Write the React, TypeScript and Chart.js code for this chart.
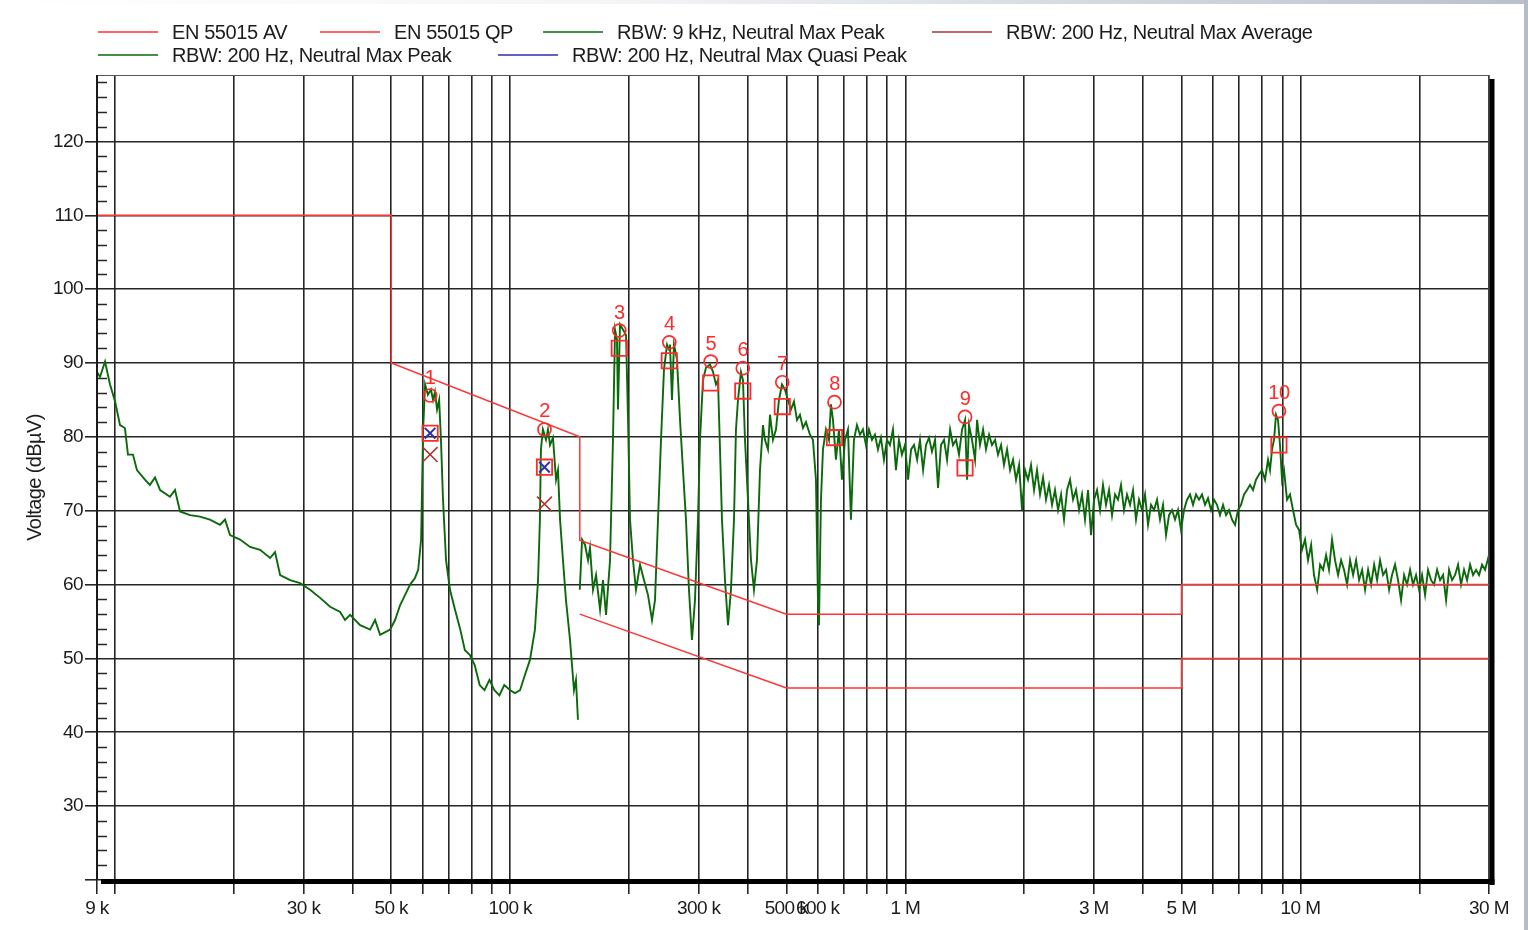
import { useEffect, useRef } from "react";
import { Chart, registerables } from "chart.js";

Chart.register(...registerables);

// ---------- DATA (frequency in kHz, level in dBµV) ----------
const TRACE_200HZ_FREQ = [
  9.0, 9.16, 9.43, 9.71, 10.0, 10.29, 10.59, 10.78, 11.1, 11.36,
  11.9, 12.25, 12.62, 13.0, 13.77, 14.18, 14.6, 15.47, 16.4, 17.38,
  18.43, 18.98, 19.54, 20.72, 21.96, 23.28, 24.68, 25.4, 26.16, 27.73,
  29.39, 31.16, 33.03, 35.01, 37.11, 38.2, 39.34, 41.7, 44.2, 45.5,
  46.85, 49.66, 51.12, 52.63, 54.2, 55.8, 57.4, 58.5, 59.5, 60.2,
  60.9, 61.9, 63.0, 63.8, 64.5, 65.3, 66.1, 66.8, 67.6, 68.8,
  70.4, 72.5, 74.6, 76.8, 79.0, 81.3, 83.7, 86.1, 88.6, 91.2,
  93.9, 96.6, 100, 102.8, 105.9, 109.0, 112.2, 115.5, 117.6, 118.9,
  119.6, 121.0, 123.2, 124.6, 126.1, 128.3, 130.6, 132.1, 133.7, 136.0,
  138.4, 141.7, 145.0, 146.7, 148.4,
];
const TRACE_200HZ_PEAK = [
  88.8, 88.1, 90.2, 87.1, 84.8, 81.6, 81.2, 77.6, 77.6, 75.5,
  74.2, 73.5, 74.5, 72.8, 71.9, 72.8, 69.9, 69.4, 69.2, 68.8,
  68.1, 68.8, 66.7, 66.1, 65.1, 64.7, 63.6, 64.4, 61.3, 60.6,
  60.2, 59.3, 58.2, 57.0, 56.3, 55.2, 55.9, 54.5, 53.9, 55.2,
  53.2, 53.9, 55.2, 57.2, 58.6, 60.0, 60.9, 62.0, 66.1, 81.0,
  87.1, 85.7, 86.4, 85.0, 86.1, 83.7, 85.0, 79.6, 71.5, 63.3,
  59.3, 56.6, 54.1, 51.1, 50.5, 49.1, 46.4, 45.7, 47.1, 45.7,
  45.0, 46.4, 45.7, 45.3, 45.7, 47.8, 49.8, 53.9, 60.6, 68.8,
  78.3, 81.0, 79.6, 81.0, 78.9, 79.9, 74.2, 75.5, 68.8, 63.3,
  57.9, 52.5, 45.7, 47.1, 41.7,
];

const TRACE_9KHZ_FREQ = [
  150, 152.0, 154.6, 157.4, 159.2, 162.0, 164.9, 168.8, 171.7, 174.8,
  178.9, 182.0, 184.2, 186.3, 187.4, 189.6, 193.0, 196.4, 198.7, 201.0,
  204.5, 208.1, 213.1, 218.1, 223.2, 228.5, 232.5, 236.6, 240.8, 245.0,
  249.4, 252.3, 253.7, 256.7, 259.7, 264.3, 269.0, 273.7, 278.5, 283.4,
  288.4, 293.5, 298.7, 302.2, 307.5, 313.0, 320.3, 326.0, 331.7, 335.6,
  339.6, 343.5, 349.6, 355.8, 362.0, 368.4, 372.7, 377.1, 383.7, 388.2,
  392.8, 399.7, 406.8, 413.9, 421.2, 428.7, 436.2, 441.3, 449.1, 454.4,
  462.4, 470.5, 478.8, 487.3, 495.9, 504.6, 513.5, 522.6, 531.8, 541.2,
  550.7, 560.4, 573.6, 583.7, 594.0, 601.0, 604.5, 611.6, 618.8, 629.7,
  640.8, 648.3, 655.9, 667.4, 679.2, 691.2, 703.4, 715.8, 728.4, 741.2,
  754.3, 767.6, 781.2, 794.9, 808.9, 823.2, 837.7, 852.5, 867.5, 882.8,
  898.4, 914.2, 930.4, 946.8, 963.5, 980.5, 997.7, 1016, 1034, 1052,
  1071, 1089, 1109, 1128, 1148, 1168, 1189, 1210, 1231, 1253,
  1275, 1298, 1320, 1344, 1367, 1392, 1416, 1433, 1449, 1475,
  1501, 1519, 1545, 1573, 1600, 1629, 1657, 1687, 1716, 1747,
  1777, 1809, 1841, 1873, 1906, 1940, 1974, 2009, 2044, 2080,
  2117, 2154, 2192, 2231, 2270, 2310, 2351, 2392, 2435, 2478,
  2521, 2566, 2611, 2657, 2704, 2752, 2800, 2849, 2900, 2951,
  3003, 3056, 3110, 3164, 3220, 3277, 3335, 3394, 3453, 3514,
  3576, 3639, 3704, 3769, 3835, 3903, 3972, 4042, 4113, 4186,
  4260, 4335, 4411, 4489, 4568, 4649, 4731, 4814, 4899, 4985,
  5073, 5163, 5254, 5346, 5441, 5537, 5634, 5734, 5835, 5938,
  6042, 6149, 6257, 6368, 6480, 6594, 6711, 6829, 6949, 7072,
  7197, 7324, 7453, 7584, 7718, 7854, 7992, 8133, 8277, 8374,
  8472, 8571, 8672, 8773, 8876, 8980, 9086, 9246, 9409, 9575,
  9744, 9916, 10090, 10270, 10450, 10640, 10820, 11020, 11210, 11410,
  11610, 11810, 12020, 12230, 12450, 12670, 12890, 13120, 13350, 13590,
  13830, 14070, 14320, 14570, 14830, 15090, 15360, 15630, 15900, 16180,
  16470, 16760, 17050, 17350, 17660, 17970, 18290, 18610, 18940, 19270,
  19610, 19960, 20310, 20670, 21030, 21410, 21780, 22170, 22560, 22960,
  23360, 23770, 24190, 24620, 25050, 25490, 25940, 26400, 26870, 27340,
  27820, 28310, 28810, 29320, 30000,
];
const TRACE_9KHZ_PEAK = [
  59.3, 66.1, 65.4, 63.3, 65.0, 59.3, 61.3, 56.6, 60.6, 55.9,
  63.3, 79.6, 94.5, 93.2, 83.7, 95.2, 94.5, 93.8, 82.3, 68.8,
  63.3, 59.3, 62.7, 60.6, 58.6, 55.2, 57.9, 68.8, 79.6, 89.1,
  92.5, 91.8, 92.5, 85.0, 92.5, 90.5, 82.3, 75.5, 68.8, 59.3,
  52.5, 57.9, 68.8, 79.6, 87.7, 89.4, 89.8, 88.8, 87.1, 87.7,
  78.3, 68.8, 60.6, 54.5, 59.3, 68.8, 81.0, 85.0, 88.8, 87.7,
  79.6, 71.5, 63.3, 59.3, 63.3, 75.5, 81.6, 79.6, 78.3, 83.0,
  79.6, 81.0, 85.0, 87.1, 86.4, 85.0, 83.7, 84.8, 82.3, 83.0,
  81.2, 82.0, 80.3, 79.6, 74.2, 57.9, 54.5, 71.5, 78.3, 81.0,
  79.6, 84.4, 82.3, 76.9, 81.0, 74.2, 79.6, 81.0, 68.8, 79.6,
  81.6, 80.3, 81.0, 78.9, 81.0, 79.6, 80.3, 78.3, 79.9, 76.9,
  79.6, 78.9, 81.0, 75.5, 79.6, 77.6, 78.9, 74.2, 78.3, 78.9,
  76.9, 79.6, 75.5, 78.9, 79.9, 78.0, 79.6, 73.1, 78.9, 79.6,
  76.9, 81.0, 78.9, 79.6, 77.6, 81.0, 82.3, 74.2, 81.6, 79.6,
  76.9, 82.3, 78.9, 81.0, 78.3, 80.3, 78.9, 79.6, 77.6, 78.9,
  76.2, 78.3, 75.5, 76.9, 74.2, 76.2, 70.1, 75.5, 74.2, 76.2,
  72.8, 75.5, 72.2, 74.5, 71.5, 73.5, 70.8, 72.8, 70.1, 72.2,
  68.8, 72.8, 74.2, 71.5, 72.8, 70.1, 72.2, 68.8, 72.8, 66.7,
  71.5, 72.8, 70.1, 73.5, 70.8, 72.8, 69.4, 72.2, 71.5, 73.5,
  70.1, 72.2, 70.8, 72.8, 68.8, 71.5, 70.1, 72.2, 68.1, 70.8,
  70.1, 71.5, 68.8, 70.8, 66.7, 69.4, 70.1, 68.8, 70.1, 67.4,
  70.1, 71.5, 72.2, 70.8, 72.2, 71.5, 72.2, 70.8, 71.7, 70.1,
  71.5, 70.8, 69.4, 70.8, 69.4, 70.1, 68.8, 68.1, 70.1, 70.8,
  72.2, 72.8, 73.5, 72.8, 74.2, 74.9, 75.5, 74.2, 76.9, 75.5,
  78.3, 79.6, 83.0, 82.3, 78.9, 74.2, 75.5, 71.5, 72.2, 70.1,
  68.1, 67.4, 64.7, 66.1, 63.3, 65.4, 61.3, 59.3, 62.7, 62.0,
  64.0, 62.0, 66.1, 63.3, 61.3, 63.3, 62.0, 60.0, 63.3, 61.3,
  63.3, 60.6, 62.0, 59.3, 62.0, 60.0, 62.7, 60.6, 63.3, 61.3,
  62.0, 59.3, 61.3, 62.7, 60.6, 57.9, 61.3, 60.0, 62.0, 60.0,
  61.3, 59.3, 61.3, 58.6, 62.0, 60.6, 60.0, 62.0, 60.6, 61.3,
  57.9, 62.0, 60.6, 61.3, 62.7, 60.0, 62.0, 60.6, 62.7, 61.3,
  62.0, 61.3, 62.7, 62.0, 64.0,
];

const QP_LIMIT_FREQ = [9, 50, 50, 150, 150, 500, 5000, 5000, 30000];
const QP_LIMIT_LEVEL = [110, 110, 90, 80, 66, 56, 56, 60, 60];
const AV_LIMIT_FREQ = [150, 500, 5000, 5000, 30000];
const AV_LIMIT_LEVEL = [56, 46, 46, 50, 50];

const MARKER_NUMBERS = ["1", "2", "3", "4", "5", "6", "7", "8", "9", "10"];
const MARKER_FREQ = [62.7, 122.1, 188.8, 252.7, 321.7, 387.8, 488.2, 661.7, 1416, 8820];
const MARKER_PEAK = [85.6, 81.0, 94.4, 92.8, 90.2, 89.3, 87.4, 84.7, 82.7, 83.5];
const MARKER_QP = [80.5, 75.9, 92.0, 90.3, 87.3, 86.2, 84.1, 79.9, 75.8, 78.9];
const QP_200HZ_FREQ = [62.7, 122.1];
const QP_200HZ_LEVEL = [80.5, 75.9];
const AVG_200HZ_FREQ = [62.7, 122.1];
const AVG_200HZ_LEVEL = [77.6, 70.9];

const X_TICKS = [
  9, 10, 20, 30, 40, 50, 60, 70, 80, 90,
  100, 200, 300, 400, 500, 600, 700, 800, 900,
  1000, 2000, 3000, 4000, 5000, 6000, 7000, 8000, 9000,
  10000, 20000, 30000,
];
const X_LABEL_VALUES = [9, 30, 50, 100, 300, 500, 600, 1000, 3000, 5000, 10000, 30000];
const X_LABEL_TEXT = ["9 k", "30 k", "50 k", "100 k", "300 k", "500 k", "600 k", "1 M", "3 M", "5 M", "10 M", "30 M"];
const Y_TICKS = [20, 30, 40, 50, 60, 70, 80, 90, 100, 110, 120];
const Y_LABEL_VALUES = [30, 40, 50, 60, 70, 80, 90, 100, 110, 120];
const Y_MIN = 20;
const Y_MAX = 129;
const Y_MINOR_STEP = 2;

const LEGEND_LABELS = [
  "EN 55015 AV",
  "EN 55015 QP",
  "RBW: 9 kHz, Neutral Max Peak",
  "RBW: 200 Hz, Neutral Max Average",
  "RBW: 200 Hz, Neutral Max Peak",
  "RBW: 200 Hz, Neutral Max Quasi Peak",
];

// ---------- STYLE ----------
const FONT = "'Liberation Sans', Arial, Helvetica, sans-serif";
const TEXT = "#1c1c1c";
const GRID = "#262626";
const LIMIT_RED = "#ff3434";
const MARK_RED = "#ff2a2a";
const TRACE_GREEN = "#0b690b";
const AVG_RED = "#b03434";
const QP_BLUE = "#2c2cb4";

const LEGEND_SLOTS = [
  { x: 98, y: 32 },
  { x: 320, y: 32 },
  { x: 543, y: 32 },
  { x: 932, y: 32 },
  { x: 98, y: 55 },
  { x: 498, y: 55 },
];

const pts = (xs: number[], ys: number[]) => xs.map((x, i) => ({ x, y: ys[i] }));

const spacingPlugin = {
  id: "spacing",
  beforeLayout(chart: any) {
    chart.ctx.letterSpacing = "-0.6px";
  },
  beforeDraw(chart: any) {
    const ctx = chart.ctx;
    ctx.letterSpacing = "-0.6px";
    ctx.save();
    ctx.fillStyle = "#ffffff";
    ctx.fillRect(0, 0, chart.width, chart.height);
    const g = ctx.createLinearGradient(0, 0, chart.width, 0);
    g.addColorStop(0, "#ffffff");
    g.addColorStop(0.4, "#f4f5f7");
    g.addColorStop(1, "#b9c1cc");
    ctx.fillStyle = g;
    ctx.fillRect(0, 0, chart.width, 4);
    ctx.fillStyle = "#b3bcc8";
    ctx.fillRect(chart.width - 4, 0, 4, chart.height);
    ctx.restore();
  },
};

const minorTickPlugin = {
  id: "minorTicks",
  beforeDatasetsDraw(chart: any) {
    const { ctx, chartArea } = chart;
    const y = chart.scales.y;
    ctx.save();
    ctx.strokeStyle = GRID;
    ctx.lineWidth = 1.5;
    ctx.beginPath();
    for (let v = Y_MIN + Y_MINOR_STEP; v < Y_MAX; v += Y_MINOR_STEP) {
      if (v % 10 === 0) continue;
      const py = Math.round(y.getPixelForValue(v)) + 0.5;
      ctx.moveTo(chartArea.left, py);
      ctx.lineTo(chartArea.left + 10, py);
    }
    ctx.stroke();
    ctx.restore();
  },
};

const framePlugin = {
  id: "frame",
  afterDatasetsDraw(chart: any) {
    const { ctx, chartArea: a } = chart;
    ctx.save();
    ctx.strokeStyle = "#555";
    ctx.lineWidth = 1.2;
    ctx.beginPath();
    ctx.moveTo(a.left, a.top + 0.5);
    ctx.lineTo(a.right, a.top + 0.5);
    ctx.lineTo(a.right, a.bottom);
    ctx.stroke();
    ctx.strokeStyle = "#1a1a1a";
    ctx.lineWidth = 2;
    ctx.beginPath();
    ctx.moveTo(a.left, a.top);
    ctx.lineTo(a.left, a.bottom);
    ctx.stroke();
    ctx.fillStyle = "#000";
    ctx.fillRect(a.right + 0.5, a.top + 4, 5, a.bottom - a.top + 1);
    ctx.fillRect(a.left + 4, a.bottom - 1, a.right - a.left + 1.5, 5);
    ctx.restore();
  },
};

const markerLabelPlugin = {
  id: "markerLabels",
  afterDatasetsDraw(chart: any) {
    const idx = chart.data.datasets.findIndex((d: any) => d.markerLabels);
    if (idx < 0) return;
    const meta = chart.getDatasetMeta(idx);
    const ctx = chart.ctx;
    ctx.save();
    ctx.font = `20px ${FONT}`;
    ctx.letterSpacing = "-0.5px";
    ctx.fillStyle = MARK_RED;
    ctx.textAlign = "center";
    ctx.textBaseline = "alphabetic";
    meta.data.forEach((p: any, i: number) => {
      ctx.fillText(MARKER_NUMBERS[i], p.x, p.y - 12);
    });
    ctx.restore();
  },
};

const legendPlugin = {
  id: "customLegend",
  afterDraw(chart: any) {
    const ctx = chart.ctx;
    ctx.save();
    ctx.font = `20px ${FONT}`;
    ctx.letterSpacing = "-0.4px";
    ctx.textBaseline = "middle";
    ctx.textAlign = "left";
    chart.data.datasets.forEach((ds: any, i: number) => {
      const slot = LEGEND_SLOTS[i];
      if (!slot || !ds.label) return;
      ctx.strokeStyle = ds.borderColor;
      ctx.lineWidth = 1.6;
      ctx.beginPath();
      ctx.moveTo(slot.x, slot.y);
      ctx.lineTo(slot.x + 60, slot.y);
      ctx.stroke();
      ctx.fillStyle = TEXT;
      ctx.fillText(ds.label, slot.x + 74, slot.y + 1);
    });
    ctx.restore();
  },
};

export default function App() {
  const ref = useRef<HTMLCanvasElement>(null);

  useEffect(() => {
    const canvas = ref.current;
    if (!canvas) return;
    const lineDs = (label: string, data: any[], color: string, width: number, order: number) => ({
      label,
      data,
      showLine: true,
      borderColor: color,
      backgroundColor: color,
      borderWidth: width,
      pointRadius: 0,
      tension: 0,
      fill: false,
      order,
    });
    const chart = new Chart(canvas, {
      type: "scatter",
      data: {
        datasets: [
          lineDs(LEGEND_LABELS[0], pts(AV_LIMIT_FREQ, AV_LIMIT_LEVEL), LIMIT_RED, 1.5, 1),
          lineDs(LEGEND_LABELS[1], pts(QP_LIMIT_FREQ, QP_LIMIT_LEVEL), LIMIT_RED, 1.5, 1),
          lineDs(LEGEND_LABELS[2], pts(TRACE_9KHZ_FREQ, TRACE_9KHZ_PEAK), TRACE_GREEN, 1.9, 2),
          {
            label: LEGEND_LABELS[3],
            data: pts(AVG_200HZ_FREQ, AVG_200HZ_LEVEL),
            showLine: false,
            borderColor: AVG_RED,
            backgroundColor: "transparent",
            pointStyle: "crossRot",
            pointRadius: 10.5,
            pointBorderWidth: 1.6,
            order: 0,
          },
          lineDs(LEGEND_LABELS[4], pts(TRACE_200HZ_FREQ, TRACE_200HZ_PEAK), TRACE_GREEN, 1.9, 2),
          {
            label: LEGEND_LABELS[5],
            data: pts(QP_200HZ_FREQ, QP_200HZ_LEVEL),
            showLine: false,
            borderColor: QP_BLUE,
            backgroundColor: "transparent",
            pointStyle: "crossRot",
            pointRadius: 7.5,
            pointBorderWidth: 2,
            order: 0,
          },
          {
            label: "",
            markerLabels: true,
            data: pts(MARKER_FREQ, MARKER_PEAK),
            showLine: false,
            borderColor: MARK_RED,
            backgroundColor: "transparent",
            pointStyle: "circle",
            pointRadius: 6.5,
            pointBorderWidth: 1.7,
            order: 0,
          } as any,
          {
            label: "",
            data: pts(MARKER_FREQ, MARKER_QP),
            showLine: false,
            borderColor: MARK_RED,
            backgroundColor: "transparent",
            pointStyle: "rect",
            pointRadius: 10.8,
            pointBorderWidth: 1.8,
            order: 0,
          },
        ],
      },
      options: {
        responsive: false,
        animation: false,
        devicePixelRatio: 1,
        events: [],
        layout: { padding: { top: 75, right: 39, bottom: 0, left: 0 } },
        plugins: {
          legend: { display: false },
          tooltip: { enabled: false },
          title: { display: false },
        },
        scales: {
          x: {
            type: "logarithmic",
            min: 9,
            max: 30000,
            afterBuildTicks: (s: any) => {
              s.ticks = X_TICKS.map((v) => ({ value: v }));
            },
            afterFit: (s: any) => {
              s.height = 50;
            },
            ticks: {
              autoSkip: false,
              maxRotation: 0,
              minRotation: 0,
              padding: 3,
              color: TEXT,
              font: { family: FONT, size: 19 },
              callback: (v: any) => {
                const i = X_LABEL_VALUES.indexOf(Number(v));
                return i >= 0 ? X_LABEL_TEXT[i] : "";
              },
            },
            grid: {
              color: GRID,
              lineWidth: 1.6,
              drawTicks: true,
              tickLength: 14,
              tickColor: GRID,
              tickWidth: 1.6,
            },
            border: { display: false },
          },
          y: {
            type: "linear",
            min: Y_MIN,
            max: Y_MAX,
            afterBuildTicks: (s: any) => {
              s.ticks = Y_TICKS.map((v) => ({ value: v }));
            },
            afterFit: (s: any) => {
              s.width = 97;
            },
            ticks: {
              padding: 2,
              color: TEXT,
              font: { family: FONT, size: 19 },
              callback: (v: any) => (Y_LABEL_VALUES.includes(Number(v)) ? String(v) : ""),
            },
            grid: {
              color: GRID,
              lineWidth: 1.6,
              drawTicks: true,
              tickLength: 12,
              tickColor: GRID,
              tickWidth: 1.6,
            },
            border: { display: false },
            title: {
              display: true,
              text: "Voltage (dBµV)",
              color: TEXT,
              font: { family: FONT, size: 20 },
              padding: { top: 23, bottom: 0 },
            },
          },
        },
      },
      plugins: [spacingPlugin, minorTickPlugin, framePlugin, markerLabelPlugin, legendPlugin],
    } as any);
    return () => chart.destroy();
  }, []);

  return (
    <div style={{ position: "absolute", left: 0, top: 0, width: 1528, height: 930 }}>
      <canvas ref={ref} width={1528} height={930} style={{ display: "block", width: 1528, height: 930 }} />
    </div>
  );
}
